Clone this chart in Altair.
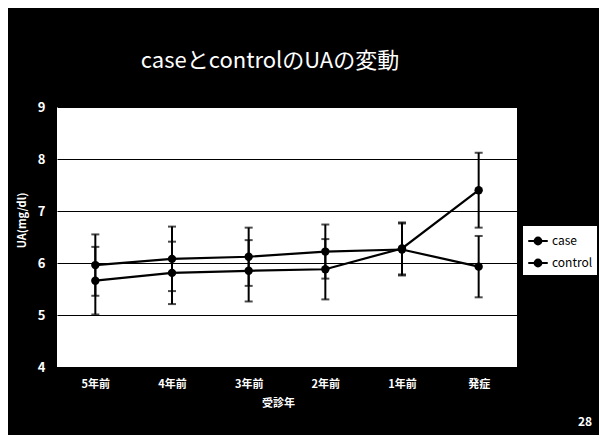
import altair as alt
import pandas as pd

categories = ["5年前", "4年前", "3年前", "2年前", "1年前", "発症"]
series_names = ["case", "control"]
case_mean = [5.66, 5.81, 5.85, 5.88, 6.28, 7.40]
case_lo = [5.01, 5.21, 5.26, 5.30, 5.78, 6.68]
case_hi = [6.31, 6.41, 6.44, 6.46, 6.78, 8.12]
control_mean = [5.96, 6.08, 6.12, 6.22, 6.26, 5.93]
control_lo = [5.37, 5.46, 5.56, 5.70, 5.76, 5.34]
control_hi = [6.55, 6.70, 6.68, 6.74, 6.76, 6.52]
y_ticks = [4, 5, 6, 7, 8, 9]
page_number = ["28"]

rows = []
for name, m, lo, hi in [("case", case_mean, case_lo, case_hi),
                        ("control", control_mean, control_lo, control_hi)]:
    for c, mv, lv, hv in zip(categories, m, lo, hi):
        rows.append({"period": c, "series": name, "mean": mv, "lo": lv, "hi": hv})
df = pd.DataFrame(rows)

FONT = "Noto Sans CJK JP"

xenc = alt.X("period:N", sort=categories,
             scale=alt.Scale(type="point", domain=categories, padding=0.5),
             axis=alt.Axis(title="受診年", labelAngle=0, labelColor="white",
                           labelFont=FONT, labelFontSize=11, labelFontWeight="bold",
                           labelPadding=11, domain=False, ticks=False, grid=False,
                           titleColor="white", titleFont=FONT, titleFontSize=11,
                           titleFontWeight="bold", titlePadding=8, titleX=221))
yscale = alt.Scale(domain=[4, 9], nice=False)
yaxis = alt.Axis(title="UA(mg/dl)", values=y_ticks, labelColor="white", labelFont=FONT,
                 labelFontSize=13, labelFontWeight="bold", labelPadding=12,
                 domain=False, ticks=False, grid=True, gridColor="black", gridWidth=1.2,
                 titleColor="white", titleFont=FONT, titleFontSize=11,
                 titleFontWeight="bold", titleX=-30, titleY=113, titleAngle=270,
                 titleAlign="center", titleBaseline="bottom")
color = alt.Color("series:N", scale=alt.Scale(domain=series_names, range=["black", "black"]),
                  legend=alt.Legend(title=None))

base = alt.Chart(df)
rules = base.mark_rule(strokeWidth=2, color="black").encode(
    x=xenc, y=alt.Y("lo:Q", scale=yscale, axis=yaxis), y2="hi:Q")
tick_lo = base.mark_tick(color="black", thickness=2, size=8).encode(x=xenc, y=alt.Y("lo:Q"))
tick_hi = base.mark_tick(color="black", thickness=2, size=8).encode(x=xenc, y=alt.Y("hi:Q"))
lines = base.mark_line(strokeWidth=2.2).encode(
    x=xenc, y=alt.Y("mean:Q"), color=color, detail="series:N")
points = base.mark_point(filled=True, size=70, opacity=1).encode(
    x=xenc, y=alt.Y("mean:Q"), color=color)

pn = alt.Chart(pd.DataFrame({"t": page_number})).mark_text(
    color="white", font=FONT, fontSize=12, fontWeight="bold", align="left", baseline="middle"
).encode(text="t:N", x=alt.value(521), y=alt.value(315))

chart = alt.layer(rules, tick_lo, tick_hi, lines, points, pn).properties(
    width=460, height=260,
    padding={"left": 49, "top": 99, "right": 82, "bottom": 68},
    autosize=alt.AutoSizeParams(type="none"),
    background="black",
    title=alt.TitleParams("caseとcontrolのUAの変動", color="white", font=FONT,
                          fontSize=22, fontWeight="normal", anchor="middle",
                          dx=-17, offset=28),
).configure_view(fill="white", stroke=None).configure_legend(
    orient="none", legendX=466, legendY=119, fillColor="white", padding=4,
    labelColor="black", labelFont=FONT, labelFontSize=12, labelFontWeight="normal",
    symbolType="M-1,0L1,0M-0.35,0a0.35,0.35 0 1,0 0.7,0a0.35,0.35 0 1,0 -0.7,0",
    symbolSize=380, symbolStrokeWidth=2, symbolFillColor="black",
    symbolStrokeColor="black", rowPadding=3, labelOffset=3
)

chart.save("out.html", embed_options={"renderer": "svg", "actions": False})
